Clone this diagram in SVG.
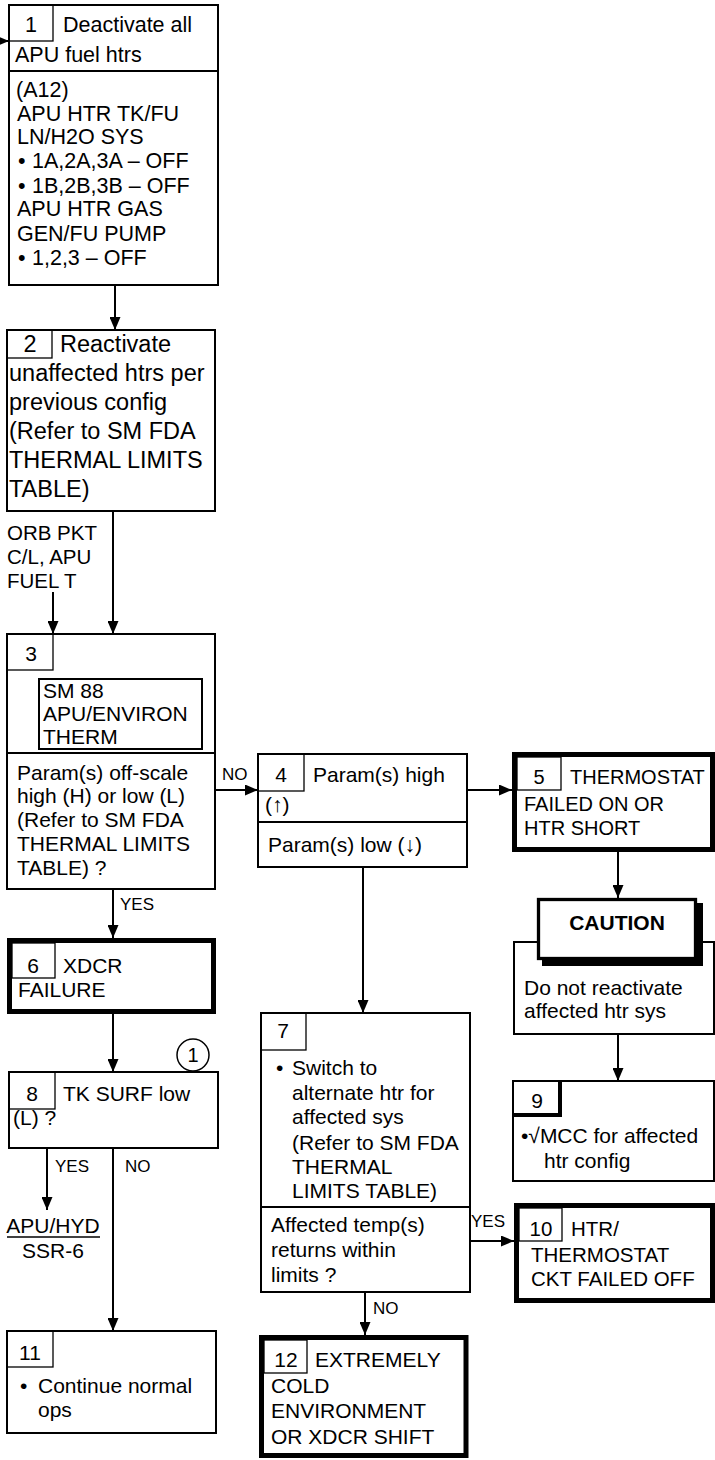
<svg xmlns="http://www.w3.org/2000/svg" width="715" height="1460" viewBox="0 0 715 1460">
<style>
.b{fill:#fff;stroke:#000;stroke-width:2}
.tk{fill:#fff;stroke:#000;stroke-width:5}
.n{fill:none;stroke:#000;stroke-width:1.3}
.c{fill:none;stroke:#000;stroke-width:2}
text{font-family:"Liberation Sans",Arial,sans-serif;font-size:21px;fill:#000}
.m{text-anchor:middle}
.lbl{font-size:17px}
.f1{font-size:21.5px}
.f2{font-size:23.5px}
.f20{font-size:20px}
.f205{font-size:20.5px}
</style>
<defs>
<marker id="ah" markerUnits="userSpaceOnUse" markerWidth="13" markerHeight="11" refX="13" refY="5.5" orient="auto">
<path d="M0,0 L13,5.5 L0,11 z" fill="#000"/>
</marker>
</defs>
<rect width="715" height="1460" fill="#fff"/>

<g id="connectors">
<path class="c" d="M0,41 H9" marker-end="url(#ah)"/>
<path class="c" d="M115,285 V330" marker-end="url(#ah)"/>
<path class="c" d="M113,511 V634" marker-end="url(#ah)"/>
<path class="c" d="M53,592 V634" marker-end="url(#ah)"/>
<path class="c" d="M215,790 H258" marker-end="url(#ah)"/>
<path class="c" d="M467,790 H512" marker-end="url(#ah)"/>
<path class="c" d="M113,889 V938" marker-end="url(#ah)"/>
<path class="c" d="M618,852 V898" marker-end="url(#ah)"/>
<path class="c" d="M618,1034 V1081" marker-end="url(#ah)"/>
<path class="c" d="M363,867 V1013" marker-end="url(#ah)"/>
<path class="c" d="M113,1014 V1072" marker-end="url(#ah)"/>
<path class="c" d="M47,1148 V1210" marker-end="url(#ah)"/>
<path class="c" d="M113,1148 V1331" marker-end="url(#ah)"/>
<path class="c" d="M469,1241 H514" marker-end="url(#ah)"/>
<path class="c" d="M365,1292 V1335" marker-end="url(#ah)"/>
<text class="lbl" x="222" y="780">NO</text>
<text class="lbl" x="120" y="910">YES</text>
<text class="lbl" x="55" y="1172">YES</text>
<text class="lbl" x="125" y="1172">NO</text>
<text class="lbl" x="471" y="1227">YES</text>
<text class="lbl" x="373" y="1314">NO</text>
</g>

<g id="box1">
<rect class="b" x="9" y="5" width="209" height="280"/>
<line class="c" x1="9" y1="71" x2="218" y2="71"/>
<rect class="n" x="9" y="5" width="44" height="36"/>
<text class="f1 m" x="31" y="32">1</text>
<text class="f1" x="63" y="32">Deactivate all</text>
<text class="f1" x="15" y="62">APU fuel htrs</text>
<text class="f1" x="16" y="97">(A12)</text>
<text class="f1" x="17" y="121">APU HTR TK/FU</text>
<text class="f1" x="17" y="144">LN/H2O SYS</text>
<text class="f1" x="18" y="168">•</text><text class="f1" x="32" y="168">1A,2A,3A – OFF</text>
<text class="f1" x="18" y="193">•</text><text class="f1" x="32" y="193">1B,2B,3B – OFF</text>
<text class="f1" x="17" y="216">APU HTR GAS</text>
<text class="f1" x="17" y="241">GEN/FU PUMP</text>
<text class="f1" x="18" y="265">•</text><text class="f1" x="32" y="265">1,2,3 – OFF</text>
</g>

<g id="box2">
<rect class="b" x="7" y="330" width="208" height="181"/>
<rect class="n" x="7" y="330" width="45" height="28"/>
<text class="f2 m" x="30" y="352">2</text>
<text class="f2" x="60" y="352">Reactivate</text>
<text class="f2" x="9" y="381">unaffected htrs per</text>
<text class="f2" x="9" y="410">previous config</text>
<text class="f2" x="9" y="439">(Refer to SM FDA</text>
<text class="f2" x="9" y="468">THERMAL LIMITS</text>
<text class="f2" x="9" y="497">TABLE)</text>
</g>

<g id="orb-label">
<text class="f205" x="7" y="540">ORB PKT</text>
<text class="f205" x="7" y="564">C/L, APU</text>
<text class="f205" x="7" y="588">FUEL T</text>
</g>

<g id="box3">
<rect class="b" x="7" y="634" width="208" height="255"/>
<line class="c" x1="7" y1="753" x2="215" y2="753"/>
<rect class="n" x="7" y="634" width="46" height="36"/>
<text class="m" x="31" y="661">3</text>
<rect class="c" x="39" y="679" width="163" height="70"/>
<text x="43" y="698">SM 88</text>
<text x="43" y="721">APU/ENVIRON</text>
<text x="43" y="744">THERM</text>
<text x="17" y="780">Param(s) off-scale</text>
<text x="17" y="803">high (H) or low (L)</text>
<text x="17" y="827">(Refer to SM FDA</text>
<text x="17" y="851">THERMAL LIMITS</text>
<text x="17" y="875">TABLE) ?</text>
</g>

<g id="box4">
<rect class="b" x="258" y="754" width="209" height="113"/>
<line class="c" x1="258" y1="822" x2="467" y2="822"/>
<rect class="n" x="258" y="754" width="46" height="37"/>
<text class="m" x="281" y="782">4</text>
<text x="313" y="782">Param(s) high</text>
<text x="265" y="812">(↑)</text>
<text x="268" y="852">Param(s) low (↓)</text>
</g>

<g id="box5">
<rect class="tk" x="514.5" y="754.5" width="198" height="95"/>
<rect class="n" x="517" y="757" width="44" height="33"/>
<text class="f20 m" x="539" y="784">5</text>
<text class="f20" x="570" y="784">THERMOSTAT</text>
<text class="f20" x="524" y="811">FAILED ON OR</text>
<text class="f20" x="524" y="835">HTR SHORT</text>
</g>

<g id="caution">
<rect class="b" x="514" y="942" width="200" height="92"/>
<rect x="542" y="903" width="161" height="63" fill="#000"/>
<rect x="538.5" y="899.5" width="157" height="59" fill="#fff" stroke="#000" stroke-width="3.3"/>
<text class="m" x="617" y="930" font-weight="bold">CAUTION</text>
<text x="524" y="995">Do not reactivate</text>
<text x="524" y="1018">affected htr sys</text>
</g>

<g id="box6">
<rect class="tk" x="9.5" y="940.5" width="204" height="71"/>
<rect class="n" x="12" y="943" width="43" height="35"/>
<text class="m" x="33" y="973">6</text>
<text x="63" y="973">XDCR</text>
<text x="18" y="997">FAILURE</text>
</g>

<g id="box7">
<rect class="b" x="261" y="1013" width="209" height="279"/>
<line class="c" x1="261" y1="1207" x2="470" y2="1207"/>
<rect class="n" x="261" y="1013" width="45" height="37"/>
<text class="m" x="283" y="1038">7</text>
<text x="276" y="1075">•</text>
<text x="292" y="1075">Switch to</text>
<text x="292" y="1100">alternate htr for</text>
<text x="292" y="1124">affected sys</text>
<text x="292" y="1150">(Refer to SM FDA</text>
<text x="292" y="1174">THERMAL</text>
<text x="292" y="1198">LIMITS TABLE)</text>
<text x="271" y="1232">Affected temp(s)</text>
<text x="271" y="1257">returns within</text>
<text x="271" y="1282">limits ?</text>
</g>

<g id="box8">
<rect class="b" x="9" y="1072" width="209" height="76"/>
<rect class="n" x="9" y="1072" width="46" height="37"/>
<text class="m" x="32" y="1101">8</text>
<text x="63" y="1101">TK SURF low</text>
<text x="13" y="1125">(L) ?</text>
<circle cx="193" cy="1055" r="16" fill="#fff" stroke="#000" stroke-width="1.5"/>
<text class="f20 m" x="193" y="1062">1</text>
</g>

<g id="apu-hyd">
<text class="m" x="53" y="1233">APU/HYD</text>
<line x1="7" y1="1237" x2="100" y2="1237" stroke="#000" stroke-width="1.5"/>
<text class="m" x="53" y="1258">SSR-6</text>
</g>

<g id="box9">
<rect class="b" x="513" y="1081" width="201" height="100"/>
<path d="M513,1115 H560 V1081" fill="none" stroke="#000" stroke-width="4"/>
<text class="m" x="537" y="1108">9</text>
<text x="521" y="1143">•√MCC for affected</text>
<text x="544" y="1168">htr config</text>
</g>

<g id="box10">
<rect class="tk" x="516.5" y="1205.5" width="196" height="95"/>
<rect class="n" x="519" y="1208" width="43" height="33"/>
<text class="f205 m" x="541" y="1236">10</text>
<text class="f205" x="571" y="1236">HTR/</text>
<text class="f205" x="531" y="1262">THERMOSTAT</text>
<text class="f205" x="531" y="1286">CKT FAILED OFF</text>
</g>

<g id="box11">
<rect class="b" x="7" y="1331" width="209" height="102"/>
<rect class="n" x="7" y="1331" width="46" height="36"/>
<text class="m" x="30" y="1360">11</text>
<text x="20" y="1393">•</text>
<text x="38" y="1393">Continue normal</text>
<text x="38" y="1417">ops</text>
</g>

<g id="box12">
<rect class="tk" x="261.5" y="1337.5" width="204.5" height="118"/>
<rect class="n" x="264" y="1340" width="43" height="33"/>
<text class="m" x="286" y="1367">12</text>
<text x="315" y="1367">EXTREMELY</text>
<text x="271" y="1393">COLD</text>
<text x="271" y="1418">ENVIRONMENT</text>
<text x="271" y="1444">OR XDCR SHIFT</text>
</g>
</svg>
